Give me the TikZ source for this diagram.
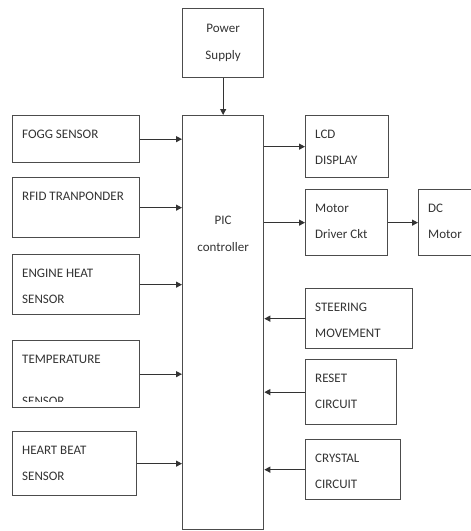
\documentclass[tikz,border=0pt]{standalone}
\usepackage{fontspec}
\setmainfont{Carlito}
\usetikzlibrary{arrows.meta,calc}

\begin{document}
\begin{tikzpicture}[
  x=1pt, y=-1pt,
  box/.style={draw=black!70, line width=1.3pt, anchor=north west, inner sep=0pt},
  lbl/.style={anchor=north west, inner sep=0pt, align=left, text=black!80,
              font=\fontsize{13}{26.5}\selectfont},
  arrow/.style={-{Triangle[length=6pt,width=6pt]}, line width=1.1pt, black!80},
]
\useasboundingbox (0,0) rectangle (471,531);

% blocks: name/x/y/width/height/text
\foreach \n/\x/\y/\w/\h/\t in {
    fogg/12/115/127/47/{FOGG SENSOR},
    rfid/12/177/127/60/{RFID TRANPONDER},
    engine/12/254/127/60/{ENGINE HEAT\\SENSOR},
    temp/12/340/127/67/{TEMPERATURE},
    heart/12/431/124/64/{HEART BEAT\\SENSOR},
    lcd/305/115/83/62/{LCD\\DISPLAY},
    driver/305/189/82/66/{Motor\\Driver Ckt},
    dc/418/189/60/66/{DC\\Motor},
    steer/305/288/107/60/{STEERING\\MOVEMENT},
    reset/305/359/91/65/{RESET\\CIRCUIT},
    crystal/305/439/95/60/{CRYSTAL\\CIRCUIT}}{
  \node[box, minimum width=\w*1pt, minimum height=\h*1pt] (\n) at (\x,\y) {};
  \node[lbl] (\n-txt) at ($(\n.north west)+(10,14.5)$) {\t};
}

\node[box, minimum width=81pt, minimum height=69pt]  (power) at (182,8) {};
\node[box, minimum width=81pt, minimum height=414pt] (pic)   at (182,115) {};
\node[lbl, anchor=north, align=center] (power-txt) at ($(power.north)+(0,16)$) {Power\\Supply};
\node[lbl, anchor=north, align=center] (pic-txt)   at ($(pic.north)+(0,101)$) {PIC\\controller};

% second line of the temperature box is cut off
\begin{scope}
  \clip (temp.north west) rectangle ($(temp.south east)+(0,-7)$);
  \node[lbl] (temp-txt2) at ($(temp.north west)+(10,56.5)$) {SENSOR};
\end{scope}

\draw[arrow] (power) -- (pic);
\foreach \a in {fogg,rfid,engine,temp,heart}{ \draw[arrow] (\a.east) -- (\a.east -| pic.west); }
\foreach \a in {lcd,driver}{ \draw[arrow] (\a.west -| pic.east) -- (\a.west); }
\draw[arrow] (driver) -- (dc);
\foreach \a in {steer,reset,crystal}{ \draw[arrow] (\a.west) -- (\a.west -| pic.east); }

\end{tikzpicture}
\end{document}
